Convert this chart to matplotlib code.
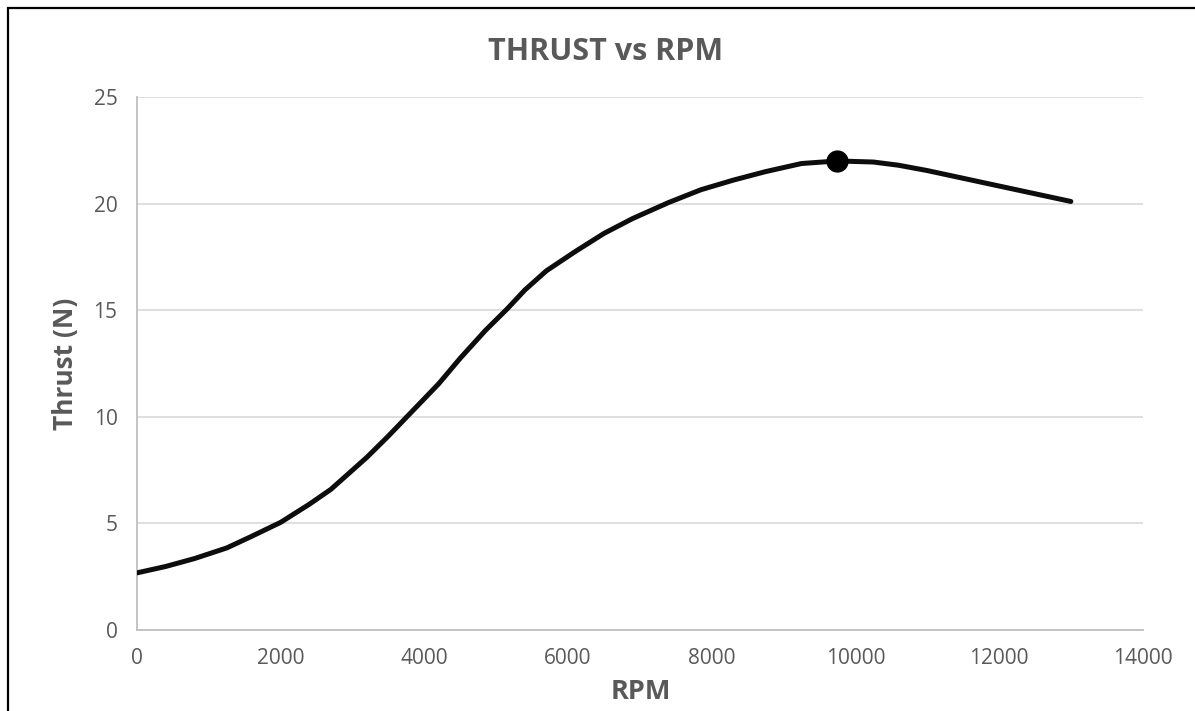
import matplotlib
matplotlib.use("Agg")
import matplotlib.pyplot as plt
from matplotlib.patches import Rectangle

rpm = [0, 400, 800, 1250, 1600, 2000, 2400, 2700, 3200, 3500, 3800, 4200,
       4500, 4850, 5150, 5400, 5700, 6100, 6500, 6900, 7400, 7850, 8300,
       8750, 9250, 9750, 10250, 10600, 11000, 11800, 13000]
thrust = [2.68, 2.98, 3.35, 3.85, 4.4, 5.05, 5.9, 6.6, 8.1, 9.1, 10.15, 11.55,
          12.75, 14.05, 15.05, 15.95, 16.85, 17.75, 18.6, 19.3, 20.05, 20.65,
          21.1, 21.5, 21.88, 22.0, 21.95, 21.8, 21.55, 20.97, 20.1]
peak_rpm = [9750]
peak_thrust = [22.0]

x_ticks = [0, 2000, 4000, 6000, 8000, 10000, 12000, 14000]
y_ticks = [0, 5, 10, 15, 20, 25]

title = "THRUST vs RPM"
x_label = "RPM"
y_label = "Thrust (N)"

plt.rcParams['font.family'] = ['Open Sans', 'DejaVu Sans']
W, H = 1195, 711
fig = plt.figure(figsize=(W / 100, H / 100), dpi=100)
ax = fig.add_axes([137 / W, 1 - 630 / H, (1142.7 - 137) / W, (630 - 97) / H])

ax.plot(rpm, thrust, color='#0d0d0d', lw=3.6, solid_capstyle='round',
        solid_joinstyle='round', zorder=3)
ax.plot(peak_rpm, peak_thrust, 'o', color='black', markersize=15, zorder=4)

ax.set_xlim(0, 14000)
ax.set_ylim(0, 25)
ax.set_xticks(x_ticks)
ax.set_yticks(y_ticks)
ax.set_xticklabels([str(v) for v in x_ticks])
ax.set_yticklabels([str(v) for v in y_ticks])
ax.tick_params(length=0, labelsize=15, labelcolor='#595959')
ax.tick_params(axis='x', pad=13)
ax.tick_params(axis='y', pad=14)
ax.grid(axis='y', color='#d9d9d9', lw=1.2, zorder=0)
ax.set_axisbelow(True)
for s in ['top', 'right']:
    ax.spines[s].set_visible(False)
for s in ['left', 'bottom']:
    ax.spines[s].set_color('#bfbfbf')
    ax.spines[s].set_linewidth(1.3)

fig.text(606 / W, 1 - 52 / H, title, ha='center', va='center',
         fontsize=22, fontweight='bold', color='#595959')
fig.text(641 / W, 1 - 692 / H, x_label, ha='center', va='center',
         fontsize=19.5, fontweight='bold', color='#595959')
fig.text(66 / W, 1 - 364 / H, y_label, ha='center', va='center', rotation=90,
         fontsize=19, fontweight='bold', color='#595959')

fig.patches.append(Rectangle((8 / W, -0.5), 2, 0.5 + (1 - 8 / H),
                             transform=fig.transFigure, fill=False,
                             edgecolor='black', lw=1.6, zorder=10))

fig.savefig("out.png", dpi=100, facecolor='white')
